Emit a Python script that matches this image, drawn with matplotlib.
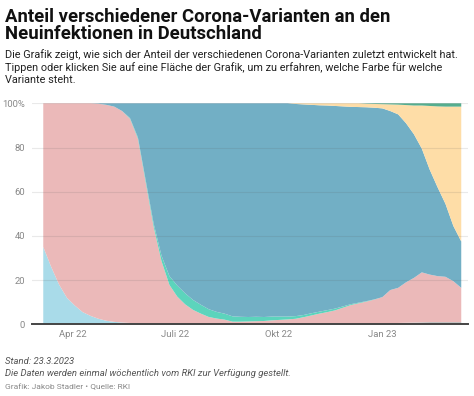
import datetime as dt
import matplotlib.pyplot as plt

plt.rcParams['font.family'] = ['Roboto', 'DejaVu Sans']

# weekly share of variants (percent)
weeks = [dt.date(2022, 3, 6) + dt.timedelta(days=7 * i) for i in range(54)]

sonstige_unten = [0] * 44 + [0.5, 0.6, 0.7, 0.8, 0.9, 1, 1, 1, 1, 1]
ba1 = [35, 26, 18, 12, 8.5, 5.5, 3.8, 2.5, 1.6, 1.1, 0.8, 0.6, 0.4, 0.3, 0.2, 0.2,
       0.1, 0.1] + [0] * 36
ba2 = [65, 74, 82, 88, 91.5, 94.5, 96.2, 97.3, 97.7, 97.4, 95.7, 92.4, 83.6, 63.7,
       43.8, 28.3, 17.7, 12.4, 9, 6.5, 4.8, 3.3, 2.6, 2.1, 1.2, 1.2, 1.3, 1.4, 1.5,
       1.8, 2.0, 2.2, 2.5, 3.2, 4.0, 4.8, 5.5, 6.3, 7.5, 8.7, 9.5, 10.3, 11.2, 12.3,
       15.0, 15.9, 18.3, 20.2, 22.6, 21.5, 20.8, 20.5, 18.5, 15.5]
ba4 = [0] * 11 + [0.3, 0.6, 1.0, 1.5, 2.5, 4, 5, 5, 4.5, 4, 3.5, 3, 2.7, 2.4, 2.2,
                  2.0, 2.0, 1.8, 1.7, 1.5, 1.3, 1.2, 1.0, 1.0, 0.9, 0.9, 0.8, 0.6,
                  0.4, 0.3, 0.2, 0.1] + [0] * 11
ba5 = [0, 0, 0, 0, 0, 0, 0, 0.2, 0.7, 1.5, 3.5, 6.7, 15.4, 35, 54.5, 69, 78.2, 82.5,
       86, 89, 91.2, 93.2, 94.4, 95.2, 96.4, 96.6, 96.7, 96.6, 96.7, 96.5, 96.5,
       96.5, 96.0, 95.3, 94.3, 93.4, 92.6, 91.7, 90.5, 89.3, 88.5, 87.7, 86.7, 85.4,
       81, 78.5, 72, 65, 56, 47.5, 40.2, 33, 25, 21]
xbb = [0] * 32 + [0.3, 0.5, 0.7, 0.9, 1.0, 1.2, 1.4, 1.6, 1.7, 1.6, 1.7, 1.9, 3.0,
                  4.4, 8.2, 13, 19.5, 28.8, 36.6, 44, 54, 61]
sonstige_oben = [0] * 41 + [0.2, 0.3, 0.4, 0.5, 0.6, 0.8, 1, 1, 1.2, 1.4, 1.5, 1.5,
                            1.5]

tick_dates = [dt.date(2022, 4, 1), dt.date(2022, 7, 1), dt.date(2022, 10, 1),
              dt.date(2023, 1, 1)]
tick_labels = ['Apr 22', 'Juli 22', 'Okt 22', 'Jan 23']

colors = ['#bdbdbd', '#a9dbe9', '#ebb9b9', '#5cd4bc', '#72afc5', '#fedda7', '#55ae8f']

fig = plt.figure(figsize=(4.74, 3.96), dpi=100)
W, H = 474, 396
ax = fig.add_axes([32 / W, (H - 324.3) / H, (468 - 32) / W, (324.3 - 103.3) / H])

ax.stackplot(weeks, sonstige_unten, ba1, ba2, ba4, ba5, xbb, sonstige_oben,
             colors=colors, linewidth=0)

ax.set_ylim(0, 100)
ax.set_xlim(dt.date(2022, 2, 24), dt.date(2023, 3, 18))
ax.set_yticks([0, 20, 40, 60, 80, 100])
ax.set_yticklabels(['0', '20', '40', '60', '80', '100%'])
ax.set_xticks(tick_dates)
ax.set_xticklabels(tick_labels)
ax.tick_params(length=0, labelsize=6.8, colors='#888888', pad=4)
ax.tick_params(axis='y', pad=5)

for y in [20, 40, 60, 80, 100]:
    ax.axhline(y, color='#555555', alpha=0.13, linewidth=0.8, zorder=3)
ax.axhline(0, color='#444444', linewidth=1.4, zorder=4, clip_on=False)
for s in ax.spines.values():
    s.set_visible(False)

fig.text(5 / W, 1 - 22 / H, 'Anteil verschiedener Corona-Varianten an den',
         fontsize=13.3, fontweight='bold', color='#111111')
fig.text(5 / W, 1 - 39 / H, 'Neuinfektionen in Deutschland',
         fontsize=13.3, fontweight='bold', color='#111111')
sub = ('Die Grafik zeigt, wie sich der Anteil der verschiedenen Corona-Varianten zuletzt entwickelt hat.\n'
       'Tippen oder klicken Sie auf eine Fläche der Grafik, um zu erfahren, welche Farbe für welche\n'
       'Variante steht.')
fig.text(5 / W, 1 - 49 / H, sub, fontsize=7.8, color='#222222', va='top',
         linespacing=1.25)

fig.text(5 / W, 1 - 364 / H, 'Stand: 23.3.2023', fontsize=6.8, style='italic',
         color='#555555')
fig.text(5 / W, 1 - 376 / H,
         'Die Daten werden einmal wöchentlich vom RKI zur Verfügung gestellt.',
         fontsize=6.8, style='italic', color='#555555')
fig.text(5 / W, 1 - 389 / H, 'Grafik: Jakob Stadler • Quelle: RKI',
         fontsize=6, color='#888888')

fig.savefig('out.png', dpi=100)
